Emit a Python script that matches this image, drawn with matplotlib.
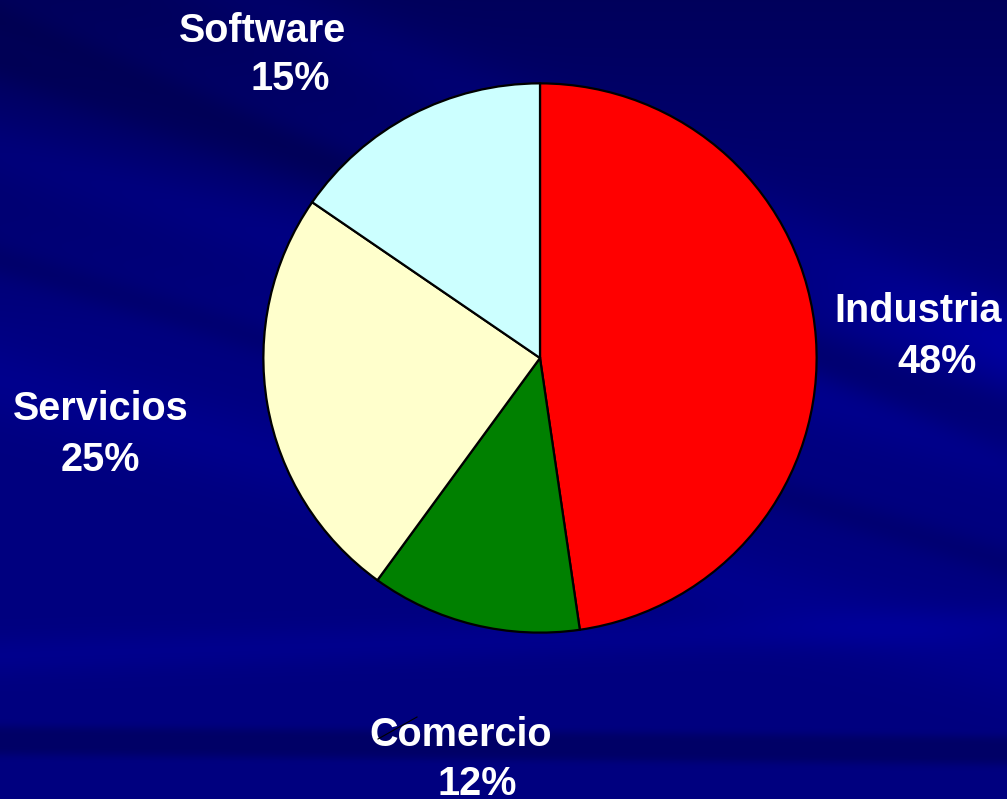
import numpy as np
import matplotlib.pyplot as plt

# slice data (sizes, labels as printed)
sectors = ['Industria', 'Comercio', 'Servicios', 'Software']
shares = [47.7, 12.3, 24.6, 15.4]
share_labels = ['48%', '12%', '25%', '15%']
colors = ['#FF0000', '#008000', '#FFFFCC', '#CCFFFF']

# label placement (figure pixels, top-left origin): name line, value line
name_pos = [(918, 311), (461, 735), (101, 409), (263, 31)]
value_pos = [(937, 362), (477, 784), (100, 460), (290, 79)]

W, H = 1007, 799


def background():
    yy, xx = np.mgrid[0:H, 0:W].astype(float)
    b = np.full((H, W), 0.50)
    # darker at top
    b -= 0.14 * np.clip(1 - yy / 330.0, 0, 1)
    # diagonal streaks top-left / right
    for y0, slope, width, amp in [(60, 0.35, 25, -0.05), (150, 0.30, 35, 0.05),
                                  (260, 0.30, 18, -0.05), (380, 0.28, 40, 0.05),
                                  (-120, 0.45, 40, 0.05), (20, 0.42, 20, -0.04)]:
        d = yy - (y0 + slope * xx)
        b += amp * np.exp(-(d / width) ** 2)
    # bright band on right side
    d = yy - (300 + 0.25 * (xx - 800))
    b += 0.08 * np.exp(-(d / 45.0) ** 2) * np.clip((xx - 700) / 300.0, 0, 1)
    # bottom bands
    b += 0.05 * np.exp(-((yy - 655 + 0.03 * xx) / 20.0) ** 2)
    b -= 0.10 * np.exp(-((yy - 740 - 0.01 * xx) / 15.0) ** 4)
    b = np.clip(b, 0, 1)
    img = np.zeros((H, W, 3))
    img[..., 2] = b
    return img


fig = plt.figure(figsize=(W / 100, H / 100), dpi=100)
bg = fig.add_axes([0, 0, 1, 1])
bg.imshow(background(), aspect='auto', extent=[0, W, H, 0], interpolation='bilinear')
bg.set_xlim(0, W)
bg.set_ylim(H, 0)
bg.axis('off')

cx, cy, rx, ry = 540, 358, 278, 276
ax = fig.add_axes([(cx - rx) / W, (H - cy - ry) / H, 2 * rx / W, 2 * ry / H])
ax.pie(shares, colors=colors, startangle=90, counterclock=False,
       wedgeprops=dict(edgecolor='black', linewidth=1.6))
ax.set_xlim(-1.005, 1.005)
ax.set_ylim(-1.005, 1.005)
ax.set_aspect('auto')
ax.axis('off')

font = dict(family='Liberation Sans', weight='bold', size=28.5, color='white',
            ha='center', va='center')
for name, lab, (nx, ny), (vx, vy) in zip(sectors, share_labels, name_pos, value_pos):
    bg.text(nx, ny, name, **font)
    bg.text(vx, vy, lab, **font)

# small leader line near Comercio label
bg.plot([378, 417], [739, 717], color='black', linewidth=0.8, zorder=5)

fig.savefig('out.png', dpi=100)
